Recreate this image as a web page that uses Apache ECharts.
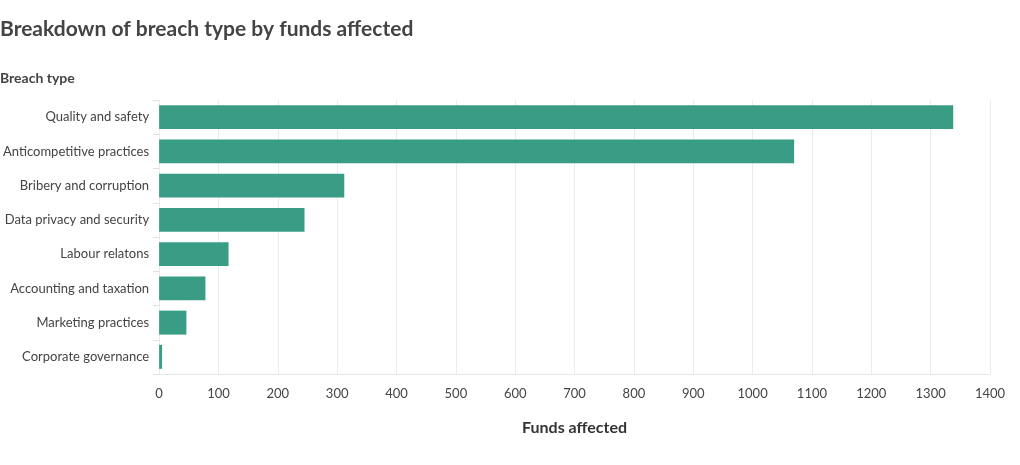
<!DOCTYPE html>
<html>
<head>
<meta charset="utf-8">
<script src="https://cdn.jsdelivr.net/npm/echarts@6/dist/echarts.min.js"></script>
<style>
  html, body { margin: 0; padding: 0; background: #fff; }
  #chart { width: 1020px; height: 465px; }
</style>
</head>
<body>
<div id="chart"></div>
<script>
const breachTypes = [
  'Quality and safety',
  'Anticompetitive practices',
  'Bribery and corruption',
  'Data privacy and security',
  'Labour relatons',
  'Accounting and taxation',
  'Marketing practices',
  'Corporate governance',
];
const fundsAffected = [1338, 1070, 312, 245, 117, 78, 46, 5];

const chart = echarts.init(document.getElementById('chart'));
const font = 'Lato, "Noto Sans", sans-serif';

chart.setOption({
  textStyle: { fontFamily: font },
  title: [
    {
      text: 'Breakdown of breach type by funds affected',
      left: 0,
      top: 19,
      padding: 0,
      textStyle: { fontFamily: font, fontSize: 21, fontWeight: 'bold', color: '#444' },
    },
    {
      text: 'Breach type',
      left: 0,
      top: 71,
      padding: 0,
      textStyle: { fontFamily: font, fontSize: 14, fontWeight: 'bold', color: '#444' },
    },
  ],
  grid: { left: 159, right: 30, top: 100, bottom: 91, containLabel: false },
  xAxis: {
    type: 'value',
    min: 0,
    max: 1400,
    interval: 100,
    name: 'Funds affected',
    nameLocation: 'middle',
    nameGap: 46,
    nameTextStyle: { fontFamily: font, fontSize: 16, fontWeight: 'bold', color: '#333' },
    axisLine: { show: true, lineStyle: { color: '#e6e6e6' } },
    axisTick: { show: false },
    axisLabel: { fontFamily: font, fontSize: 13, color: '#444', margin: 13, formatter: (v) => String(v) },
    splitLine: { show: true, lineStyle: { color: '#ebebeb' } },
  },
  yAxis: {
    type: 'category',
    data: breachTypes,
    inverse: true,
    axisLine: { show: false },
    axisTick: { show: true, length: 6, lineStyle: { color: '#e0e0e0' } },
    axisLabel: { fontFamily: font, fontSize: 13, color: '#444', margin: 10 },
  },
  series: [
    {
      type: 'bar',
      data: fundsAffected,
      barCategoryGap: '30%',
      itemStyle: { color: '#389d84' },
    },
  ],
});
</script>
</body>
</html>
